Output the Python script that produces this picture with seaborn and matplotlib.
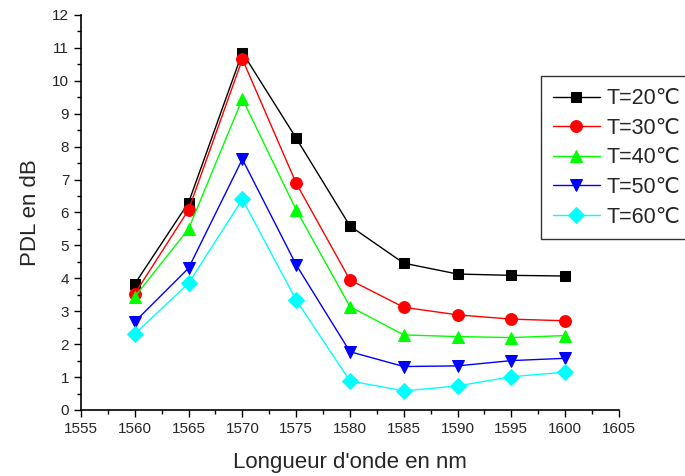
import pandas as pd
import seaborn as sns
import matplotlib.pyplot as plt

sns.set_style("ticks")
plt.rcParams['font.family'] = ['Liberation Sans', 'DejaVu Sans']

wavelength = [1560, 1565, 1570, 1575, 1580, 1585, 1590, 1595, 1600]
pdl_20 = [3.83, 6.30, 10.86, 8.26, 5.59, 4.46, 4.13, 4.09, 4.07]
pdl_30 = [3.53, 6.08, 10.66, 6.89, 3.95, 3.12, 2.89, 2.76, 2.71]
pdl_40 = [3.44, 5.50, 9.45, 6.08, 3.14, 2.28, 2.23, 2.20, 2.26]
pdl_50 = [2.68, 4.31, 7.62, 4.41, 1.77, 1.32, 1.34, 1.50, 1.57]
pdl_60 = [2.31, 3.85, 6.40, 3.34, 0.88, 0.58, 0.73, 1.01, 1.15]

labels = ["T=20℃", "T=30℃", "T=40℃", "T=50℃", "T=60℃"]
series = [pdl_20, pdl_30, pdl_40, pdl_50, pdl_60]
colors = ["#000000", "#ff0000", "#00ff00", "#0000ff", "#00ffff"]
markers = ["s", "o", "^", "v", "D"]
msizes = [7.5, 8.5, 9, 9, 8]

df = pd.concat(
    [pd.DataFrame({"wl": wavelength, "pdl": s, "T": lab}) for s, lab in zip(series, labels)],
    ignore_index=True,
)

fig = plt.figure(figsize=(6.85, 4.76), dpi=100)
ax = fig.add_axes([0.1182, 0.1387, 0.7854, 0.8298])

for lab, col, mk, ms in zip(labels, colors, markers, msizes):
    sns.lineplot(data=df[df["T"] == lab], x="wl", y="pdl", ax=ax, color=col,
                 marker=mk, markersize=ms, markeredgecolor=col, linewidth=1,
                 label=lab)

ax.set_xlim(1555, 1605)
ax.set_ylim(0, 12)
ax.set_xticks(range(1555, 1606, 5))
ax.set_yticks(range(0, 13))
ax.set_xticks([x + 2.5 for x in range(1555, 1605, 5)], minor=True)
ax.set_yticks([y + 0.5 for y in range(0, 12)], minor=True)
ax.tick_params(which="major", direction="out", length=5, width=1, labelsize=11, color="black")
ax.tick_params(which="minor", direction="out", length=3, width=1, color="black")
sns.despine(ax=ax)
for sp in ["left", "bottom"]:
    ax.spines[sp].set_color("black")
    ax.spines[sp].set_linewidth(1.2)

ax.set_xlabel("Longueur d'onde en nm", fontsize=16, labelpad=12)
ax.set_ylabel("PDL en dB", fontsize=16, labelpad=8)
ax.grid(False)

# legend box sits at the right edge like the original
leg = ax.legend(loc="upper left", bbox_to_anchor=(0.855, 0.845), frameon=True,
                fancybox=False, fontsize=15.5, handlelength=2.2, handletextpad=0.3,
                labelspacing=0.4, borderpad=0.55, borderaxespad=0)
leg.get_frame().set_edgecolor("black")
leg.get_frame().set_linewidth(1)

fig.savefig("out.png", dpi=100)
